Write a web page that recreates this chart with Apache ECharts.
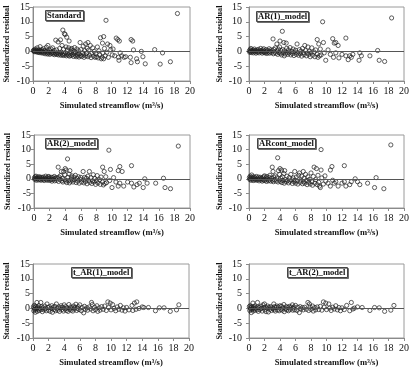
<!DOCTYPE html>
<html>
<head>
<meta charset="utf-8">
<script src="https://cdn.jsdelivr.net/npm/echarts@6/dist/echarts.min.js"></script>
<style>
  html, body { margin: 0; padding: 0; background: #fff; }
  #chart { width: 412px; height: 375px; }
</style>
</head>
<body>
<div id="chart"></div>
<script>
// panel names
const panelNames = ['Standard', 'AR(1)_model', 'AR(2)_model', 'ARcont_model', 't_AR(1)_model', 't_AR(2)_model'];

// axis ranges / ticks
const xTicks = [0, 2, 4, 6, 8, 10, 12, 14, 16, 18, 20];
const yTicks = [-10, -5, 0, 5, 10, 15];

// [simulated streamflow, standardized residual]
const standardPts = [
  [0.05,0.3],[0.1,0.1],[0.15,0.5],[0.2,-0.1],[0.25,0.2],[0.3,0.8],[0.35,0.0],[0.4,0.4],[0.45,-0.2],[0.5,0.2],
  [0.55,1.2],[0.6,0.1],[0.65,-0.3],[0.7,0.5],[0.75,0.0],[0.8,-0.4],[0.85,0.3],[0.9,1.6],[0.95,-0.1],[1.0,0.2],
  [1.05,-0.5],[1.1,0.6],[1.15,-0.2],[1.2,0.1],[1.3,-0.6],[1.35,0.9],[1.4,-0.3],[1.5,0.3],[1.55,-0.8],[1.6,-0.1],
  [1.7,1.4],[1.75,-0.5],[1.8,0.2],[1.85,-0.9],[1.9,2.0],[1.95,-0.3],
  [2.0,-0.6],[2.1,0.4],[2.15,-1.0],[2.2,-0.2],[2.3,0.8],[2.35,-0.7],[2.4,-0.3],[2.5,1.2],[2.55,-0.9],[2.6,-0.4],
  [2.7,0.3],[2.75,-1.1],[2.8,-0.5],[2.9,3.8],[2.95,-0.8],
  [3.0,0.5],[3.05,-1.0],[3.1,-0.4],[3.2,3.2],[3.25,-1.2],[3.3,-0.6],[3.4,1.0],[3.45,-0.9],[3.5,3.9],[3.55,-1.3],
  [3.6,-0.3],[3.7,2.0],[3.75,-1.0],[3.8,7.2],[3.85,-1.4],[3.9,0.8],[3.95,-0.7],
  [4.0,6.0],[4.05,-1.2],[4.1,5.7],[4.15,-0.5],[4.2,1.5],[4.25,-1.5],[4.3,4.8],[4.35,-0.9],[4.4,0.5],[4.5,-1.3],
  [4.55,1.2],[4.6,3.5],[4.65,-1.6],[4.7,-0.8],[4.8,0.6],[4.85,-1.4],[4.9,-0.2],[4.95,1.0],
  [5.0,-1.1],[5.1,0.3],[5.15,-1.7],[5.2,-0.6],[5.3,1.3],[5.35,-1.3],[5.4,-0.2],[5.5,-1.8],[5.6,0.8],[5.65,-1.0],
  [5.7,-1.5],[5.8,0.2],[5.85,-1.9],[5.9,-0.8],[6.0,3.0],
  [6.05,-1.4],[6.1,0.6],[6.2,-1.7],[6.3,-0.5],[6.4,1.8],[6.45,-1.2],[6.5,-2.0],[6.6,0.3],[6.7,2.5],[6.75,-1.5],
  [6.8,-0.7],[6.9,1.0],[7.0,3.0],[7.0,-1.8],
  [7.1,0.4],[7.2,-1.3],[7.3,2.0],[7.4,-2.1],[7.5,-0.6],[7.6,1.2],[7.7,-1.6],[7.8,0.0],[7.9,-2.0],[8.0,-0.8],
  [8.1,-1.8],[8.2,1.5],[8.3,-2.2],[8.4,0.2],[8.5,-1.2],[8.6,4.6],[8.7,-2.5],[8.8,-2.0],[8.85,2.8],[8.9,-0.5],
  [9.0,5.0],[9.0,-2.5],[9.1,1.0],[9.2,-1.5],[9.3,10.5],[9.4,-0.3],[9.5,2.5],[9.6,-2.0],[9.8,2.0],[9.9,0.5],
  [10.1,-1.2],[10.2,0.8],[10.4,-1.5],[10.6,4.5],[10.8,4.0],[10.9,-2.0],[10.95,-3.0],[11.0,3.5],[11.1,-0.5],
  [11.3,-1.5],[11.6,-2.0],[11.8,-1.8],
  [12.4,-2.0],[12.5,4.0],[12.5,-3.8],[12.7,3.5],[12.8,0.5],[13.2,-2.5],[13.3,-3.5],[13.8,0.0],[14.0,-1.8],
  [14.3,-4.2],[15.5,0.6],[16.2,-4.3],[16.5,-0.5],[17.5,-3.5],[18.4,12.8]
];

const ar1Pts = [
  [0.05,0.2],[0.1,-0.3],[0.15,0.6],[0.2,0.0],[0.25,1.0],[0.3,-0.4],[0.35,0.3],[0.4,-0.1],[0.5,0.5],[0.55,-0.5],
  [0.6,0.1],[0.7,0.8],[0.75,-0.2],[0.8,0.3],[0.9,-0.6],[0.95,0.0],
  [1.0,0.4],[1.1,-0.3],[1.2,0.7],[1.25,0.0],[1.3,-0.5],[1.4,0.3],[1.5,1.0],[1.55,-0.2],[1.6,0.2],[1.7,-0.6],
  [1.8,0.5],[1.85,-0.1],[1.9,0.9],[1.95,-0.4],
  [2.0,0.1],[2.1,-0.5],[2.2,0.6],[2.25,-0.1],[2.3,-0.7],[2.4,0.3],[2.5,-0.3],[2.6,0.9],[2.65,-0.6],[2.7,0.0],
  [2.8,0.5],[2.9,-0.4],
  [3.0,0.2],[3.1,4.2],[3.15,-0.8],[3.2,0.7],[3.3,-0.3],[3.4,1.2],[3.5,-0.6],[3.6,2.5],[3.65,0.1],[3.7,-1.0],
  [3.8,0.8],[3.9,-0.4],[3.95,1.5],
  [4.0,3.5],[4.05,-0.7],[4.1,0.3],[4.2,-1.2],[4.3,6.8],[4.35,0.6],[4.4,-0.5],[4.5,3.0],[4.55,-1.5],[4.6,0.2],
  [4.7,-0.9],[4.8,2.8],[4.85,1.0],[4.9,-0.3],
  [5.0,-1.0],[5.1,0.5],[5.2,-0.5],[5.3,1.3],[5.4,-1.2],[5.5,0.0],[5.6,-0.7],[5.7,0.8],[5.8,-1.4],[5.9,-0.2],
  [6.0,0.4],[6.1,-1.0],[6.2,2.5],[6.3,-0.5],[6.4,-1.3],[6.5,0.6],[6.6,-0.8],[6.7,0.1],[6.8,-1.6],[6.9,1.0],
  [7.0,-0.4],[7.1,-1.1],[7.2,2.0],[7.3,0.3],[7.4,-1.5],[7.5,-0.6],[7.6,1.5],[7.7,-1.0],[7.8,0.0],[7.9,-1.8],
  [8.0,-0.5],[8.1,1.2],[8.2,-1.3],[8.4,-0.2],[8.5,-1.8],[8.6,0.5],[8.8,4.0],[8.8,-1.0],[8.9,-2.0],[9.0,2.5],
  [9.1,-1.5],[9.2,0.8],[9.3,-1.2],[9.5,10.0],[9.6,3.0],[9.7,-0.5],[9.9,-3.0],
  [10.2,0.5],[10.5,-1.0],[10.8,4.3],[10.9,-2.0],[11.0,2.8],[11.2,3.0],[11.2,-0.5],[11.5,2.0],[11.6,-2.2],
  [12.0,-1.0],[12.5,4.5],[12.5,-1.5],[12.8,-2.8],[13.0,-1.5],[13.2,-2.0],[13.4,-1.0],[14.2,-3.0],[14.3,-0.5],
  [14.5,-1.5],[15.6,-1.5],[16.6,0.3],[16.8,-3.0],[17.5,-3.4],[18.4,11.3]
];

const ar2Pts = [
  [0.05,0.3],[0.1,-0.2],[0.15,0.7],[0.2,0.1],[0.25,0.9],[0.3,-0.5],[0.35,0.2],[0.4,0.0],[0.5,0.6],[0.55,-0.4],
  [0.6,0.2],[0.7,0.7],[0.75,-0.3],[0.8,0.4],[0.9,-0.5],[0.95,0.1],
  [1.0,0.5],[1.1,-0.2],[1.2,0.6],[1.25,-0.1],[1.3,-0.6],[1.4,0.2],[1.5,0.9],[1.55,-0.3],[1.6,0.3],[1.7,-0.5],
  [1.8,0.6],[1.85,0.0],[1.9,0.8],[1.95,-0.5],
  [2.0,0.2],[2.1,-0.4],[2.2,0.5],[2.25,-0.2],[2.3,-0.8],[2.4,0.4],[2.5,-0.2],[2.6,0.8],[2.65,-0.7],[2.7,0.1],
  [2.8,0.4],[2.9,-0.5],
  [3.0,0.3],[3.1,4.0],[3.15,-0.9],[3.2,0.6],[3.3,-0.2],[3.4,1.1],[3.5,2.5],[3.55,-0.7],[3.65,0.2],[3.7,-1.1],
  [3.8,2.5],[3.9,-0.3],[3.95,1.4],
  [4.0,3.5],[4.05,-0.8],[4.1,3.0],[4.2,-1.3],[4.3,6.8],[4.35,0.5],[4.4,-0.6],[4.5,1.6],[4.55,-1.4],[4.6,2.8],
  [4.7,-0.8],[4.8,0.3],[4.85,1.0],[4.9,-0.4],
  [5.0,-1.1],[5.1,0.6],[5.2,-0.4],[5.3,1.2],[5.4,-1.3],[5.5,0.1],[5.6,-0.8],[5.7,0.7],[5.8,-1.5],[5.9,-0.1],
  [6.0,0.5],[6.1,-1.1],[6.3,2.5],[6.35,-0.4],[6.4,-1.4],[6.5,0.5],[6.6,-0.9],[6.7,0.2],[6.8,-1.7],[6.9,0.9],
  [7.0,-0.5],[7.1,2.5],[7.15,-1.2],[7.3,0.4],[7.4,-1.6],[7.5,-0.7],[7.6,1.4],[7.7,-1.1],[7.8,0.1],[7.9,-1.9],
  [8.0,-0.6],[8.1,1.1],[8.2,-1.4],[8.4,-0.3],[8.5,-1.9],[8.6,0.6],[8.8,4.0],[8.8,-1.1],[8.9,-2.1],[9.0,2.5],
  [9.1,-1.6],[9.2,0.7],[9.3,-1.3],[9.6,9.8],[9.8,3.2],[9.7,-0.6],[10.0,-3.0],
  [10.2,0.4],[10.5,-1.1],[10.8,2.8],[10.8,-2.5],[11.0,4.2],[11.0,-1.5],[11.3,2.5],[11.5,-2.5],[12.0,-1.1],
  [12.5,4.5],[12.5,-1.5],[12.8,-2.8],[13.2,-2.0],[13.5,-1.5],[14.0,-3.0],[14.2,0.0],[14.5,-1.5],[15.6,-1.5],
  [16.6,0.2],[16.8,-3.0],[17.5,-3.4],[18.5,11.2]
];

const arcontPts = [
  [0.05,0.4],[0.1,-0.2],[0.15,0.9],[0.2,0.1],[0.25,-0.5],[0.3,0.5],[0.35,1.3],[0.4,-0.1],[0.5,0.3],[0.55,-0.6],
  [0.6,0.7],[0.7,0.0],[0.75,-0.4],[0.8,0.4],[0.9,-0.2],[0.95,0.8],
  [1.0,-0.5],[1.1,0.2],[1.2,-0.2],[1.25,0.6],[1.3,-0.7],[1.4,0.0],[1.5,0.5],[1.55,-0.4],[1.6,0.1],[1.7,-0.8],
  [1.8,0.3],[1.85,-0.3],[1.9,0.7],[1.95,-0.6],
  [2.0,1.0],[2.1,-0.4],[2.2,0.3],[2.25,-0.9],[2.3,0.8],[2.4,-0.2],[2.5,-0.7],[2.6,0.5],[2.65,-0.4],[2.7,1.2],
  [2.8,-0.8],[2.9,0.2],
  [3.0,4.0],[3.05,-0.5],[3.1,2.5],[3.15,-1.0],[3.2,0.6],[3.3,-0.3],[3.4,1.0],[3.5,-0.8],[3.6,0.3],[3.7,7.2],
  [3.75,-1.1],[3.8,2.8],[3.9,-0.4],[3.95,1.5],
  [4.0,3.5],[4.05,-0.9],[4.1,0.2],[4.2,3.0],[4.25,-1.3],[4.3,0.7],[4.4,-0.6],[4.5,1.8],[4.55,-1.5],[4.6,2.8],
  [4.7,-0.3],[4.8,-1.0],[4.9,0.9],
  [5.0,-0.6],[5.1,-1.4],[5.2,0.4],[5.3,-0.9],[5.4,1.5],[5.5,-0.3],[5.6,-1.6],[5.7,0.3],[5.8,-1.0],[5.9,2.5],
  [5.95,-0.5],
  [6.0,-1.5],[6.1,0.6],[6.2,-0.8],[6.3,-1.8],[6.4,1.2],[6.5,2.0],[6.6,-1.2],[6.7,-0.4],[6.8,0.9],[6.9,-1.7],
  [7.0,2.5],[7.05,-1.0],[7.1,0.2],[7.2,-1.5],[7.3,1.5],[7.4,-0.6],[7.5,-2.0],[7.6,0.7],[7.7,-1.2],[7.8,-0.2],
  [7.9,-1.8],[8.0,2.0],
  [8.1,-1.0],[8.2,-2.2],[8.3,0.8],[8.4,4.0],[8.5,-1.5],[8.6,-0.3],[8.7,3.5],[8.8,-2.0],[8.9,1.2],[9.0,-1.2],
  [9.1,-2.5],[9.2,-3.0],[9.3,10.0],[9.3,3.0],[9.4,0.3],[9.6,-1.8],[9.8,1.0],[9.9,-0.8],
  [10.2,-1.5],[10.5,3.0],[10.5,-2.5],[10.7,4.2],[10.8,-0.5],[11.0,-1.5],[11.2,-1.0],[11.5,-2.5],[12.0,-1.5],
  [12.3,4.5],[12.3,-1.0],[12.5,-2.5],[13.0,-2.0],[13.2,-1.0],[13.7,0.0],[14.0,-1.0],[14.3,-2.0],[15.3,-1.5],
  [16.2,-3.0],[16.4,0.4],[17.4,-3.4],[18.3,11.6]
];

const tAr1Pts = [
  [0.05,0.5],[0.1,-0.8],[0.15,1.0],[0.2,-0.3],[0.25,0.2],[0.3,-1.3],[0.35,0.7],[0.4,-0.5],[0.45,0.0],[0.5,2.0],
  [0.55,-1.0],[0.6,0.4],[0.7,-0.2],[0.75,0.9],[0.8,-0.7],[0.9,0.1],[1.0,2.0],[1.05,-0.4],[1.1,0.6],[1.2,-1.1],
  [1.3,0.2],[1.4,-0.5],[1.5,0.8],[1.6,-0.1],[1.7,-0.8],[1.8,1.5],[1.9,0.3],[2.0,-0.6],[2.1,0.6],[2.2,-1.0],
  [2.3,0.0],[2.4,0.9],[2.5,-1.3],[2.6,0.3],[2.7,-0.4],[2.8,0.7],[2.9,-0.8],[3.0,1.5],[3.1,0.0],[3.2,-0.6],
  [3.3,0.5],[3.4,-1.0],[3.5,0.2],[3.6,0.9],[3.7,-0.4],[3.8,0.4],[3.9,-0.9],[4.0,1.2],[4.1,-0.2],[4.2,0.6],
  [4.3,-0.7],[4.4,0.1],[4.5,-1.0],[4.6,1.3],[4.7,-0.3],[4.8,0.5],[4.9,-0.6],[5.0,0.2],[5.1,-0.9],[5.2,0.8],
  [5.3,-0.2],[5.4,0.4],[5.5,1.4],[5.6,-0.7],[5.7,0.0],[5.8,0.6],[5.9,-0.4],[6.0,1.2],[6.2,-0.8],[6.3,0.3],
  [6.5,-1.5],[6.6,0.7],[6.7,-0.3],[6.9,0.2],[7.0,-0.6],[7.2,0.5],[7.4,-0.2],[7.5,2.0],[7.6,1.3],[7.7,-0.8],
  [7.9,0.4],[8.0,-0.4],[8.2,0.9],[8.3,-1.0],[8.5,0.2],[8.6,-0.6],[8.8,0.6],[9.0,-0.3],[9.2,0.8],[9.4,-0.7],
  [9.6,2.2],[9.7,0.3],[9.9,1.8],[10.0,-0.5],[10.2,1.3],[10.4,0.0],[10.6,-0.8],[10.8,0.5],[11.0,-0.3],[11.2,1.0],
  [11.4,-0.6],[11.6,0.2],[11.8,-0.9],[12.0,0.3],[12.3,-0.5],[12.7,1.0],[12.8,-0.7],[13.0,1.8],[13.2,-0.3],
  [13.3,2.2],[13.6,0.0],[14.0,0.5],[14.2,0.3],[14.8,0.3],[15.7,-0.8],[16.2,0.2],[16.8,0.2],[17.6,-1.0],
  [18.4,-0.5],[18.7,1.2]
];

const tAr2Pts = [
  [0.05,0.6],[0.1,-0.7],[0.15,0.9],[0.2,-0.2],[0.25,0.3],[0.3,-1.4],[0.35,0.6],[0.4,-0.4],[0.45,0.1],[0.5,1.8],
  [0.55,-0.9],[0.6,0.5],[0.7,-0.1],[0.75,0.8],[0.8,-0.6],[0.9,0.2],[1.1,2.0],[1.05,-0.5],[1.15,0.5],[1.2,-1.0],
  [1.3,0.3],[1.4,-0.4],[1.5,0.7],[1.6,0.0],[1.7,-0.9],[1.8,1.2],[1.9,0.2],[2.0,1.5],[2.05,-0.5],[2.1,0.5],
  [2.2,-1.1],[2.3,0.1],[2.4,0.8],[2.5,-1.2],[2.6,0.4],[2.7,-0.3],[2.8,0.6],[2.9,-0.7],[3.0,0.2],[3.2,1.5],
  [3.1,-0.1],[3.25,-0.5],[3.3,0.6],[3.4,-0.9],[3.5,0.3],[3.6,0.8],[3.7,-0.5],[3.8,0.5],[3.9,-0.8],[4.0,0.9],
  [4.1,-0.3],[4.2,0.7],[4.3,-0.6],[4.4,0.2],[4.5,1.3],[4.55,-1.1],[4.7,-0.2],[4.8,0.6],[4.9,-0.5],[5.0,0.3],
  [5.1,-0.8],[5.2,0.7],[5.3,-0.3],[5.4,0.5],[5.6,1.2],[5.65,-0.6],[5.7,0.1],[5.8,0.5],[5.9,-0.5],[6.0,1.0],
  [6.2,-0.7],[6.3,0.4],[6.5,-1.4],[6.6,0.6],[6.7,-0.2],[6.9,0.3],[7.0,-0.5],[7.2,0.4],[7.4,-0.3],[7.6,2.0],
  [7.8,1.5],[7.7,-0.7],[7.9,0.5],[8.0,-0.3],[8.2,0.8],[8.3,-0.9],[8.5,0.3],[8.6,-0.5],[8.8,0.5],[9.0,-0.4],
  [9.2,0.7],[9.4,-0.6],[9.6,2.2],[9.7,0.4],[9.9,1.8],[10.0,-0.4],[10.3,1.5],[10.4,0.1],[10.6,-0.7],[10.8,0.4],
  [11.0,-0.2],[11.2,0.9],[11.4,-0.5],[11.6,0.3],[11.8,-0.8],[12.0,0.2],[12.3,-0.4],[12.6,1.0],[13.0,-0.8],
  [13.2,2.0],[13.4,-0.2],[13.6,0.1],[14.0,0.5],[14.6,0.3],[15.6,-0.7],[16.2,0.3],[16.8,0.2],[17.5,-1.0],
  [18.3,-0.6],[18.7,1.0]
];

const panelData = [standardPts, ar1Pts, ar2Pts, arcontPts, tAr1Pts, tAr2Pts];

// grid boxes in pixels (left column / right column)
const boxes = [
  { left: 33,  top: 7,   width: 157, height: 74, col: 0 },
  { left: 249, top: 7,   width: 156, height: 74, col: 1 },
  { left: 34,  top: 135, width: 156, height: 73, col: 0 },
  { left: 249, top: 135, width: 156, height: 73, col: 1 },
  { left: 33,  top: 264, width: 156, height: 74, col: 0 },
  { left: 249, top: 264, width: 156, height: 74, col: 1 }
];
const labelPos = [[45, 10], [256, 11], [45, 138], [257, 138], [71, 267], [287, 267]];

const serif = "'Liberation Serif', 'Times New Roman', serif";

const chart = echarts.init(document.getElementById('chart'));

const grids = [], xAxes = [], yAxes = [], series = [], titles = [];
boxes.forEach(function (b, i) {
  grids.push({ left: b.left, top: b.top, width: b.width, height: b.height,
    show: true, borderColor: '#9a9a9a', borderWidth: 1, backgroundColor: 'transparent' });
  xAxes.push({
    type: 'value', gridIndex: i,
    min: xTicks[0], max: xTicks[xTicks.length - 1], interval: 2,
    name: 'Simulated streamflow (m³/s)', nameLocation: 'middle', nameGap: 20,
    nameTextStyle: { fontFamily: serif, fontWeight: 'bold', fontSize: 8.6, color: '#111' },
    axisLine: { show: true, onZero: false, lineStyle: { color: '#8a8a8a', width: 1 } },
    axisTick: { show: true, inside: false, length: 3, lineStyle: { color: '#8a8a8a' } },
    axisLabel: { fontFamily: serif, fontSize: 10, color: '#111', margin: 5 },
    splitLine: { show: false }
  });
  yAxes.push({
    type: 'value', gridIndex: i,
    min: yTicks[0], max: yTicks[yTicks.length - 1], interval: 5,
    name: 'Standardized residual', nameLocation: 'middle', nameRotate: 90,
    nameGap: b.col === 0 ? 22 : 25,
    nameTextStyle: { fontFamily: serif, fontWeight: 'bold', fontSize: 8.2, color: '#111' },
    axisLine: { show: true, lineStyle: { color: '#8a8a8a', width: 1 } },
    axisTick: { show: true, inside: false, length: 3, lineStyle: { color: '#8a8a8a' } },
    axisLabel: { fontFamily: serif, fontSize: 10, color: '#111', margin: b.col === 0 ? 3 : 7 },
    splitLine: { show: false }
  });
  series.push({
    type: 'scatter', xAxisIndex: i, yAxisIndex: i,
    data: panelData[i],
    symbol: 'circle', symbolSize: 4.2,
    itemStyle: { color: 'rgba(255,255,255,0)', borderColor: '#222', borderWidth: 0.9 },
    markLine: {
      silent: true, symbol: 'none', animation: false,
      label: { show: false },
      lineStyle: { color: '#555', width: 1, type: 'solid' },
      data: [{ yAxis: 0 }]
    }
  });
  titles.push({
    text: panelNames[i], left: labelPos[i][0], top: labelPos[i][1],
    padding: [1, 2, 0, 2],
    borderColor: '#444', borderWidth: 1, backgroundColor: '#fff',
    shadowColor: 'rgba(0,0,0,0.45)', shadowOffsetX: 1, shadowOffsetY: 1, shadowBlur: 0,
    textStyle: { fontFamily: serif, fontWeight: 'bold', fontSize: 8.6, color: '#111', lineHeight: 10 }
  });
});

chart.setOption({
  backgroundColor: '#fff',
  animation: false,
  title: titles,
  grid: grids,
  xAxis: xAxes,
  yAxis: yAxes,
  series: series
});
</script>
</body>
</html>
